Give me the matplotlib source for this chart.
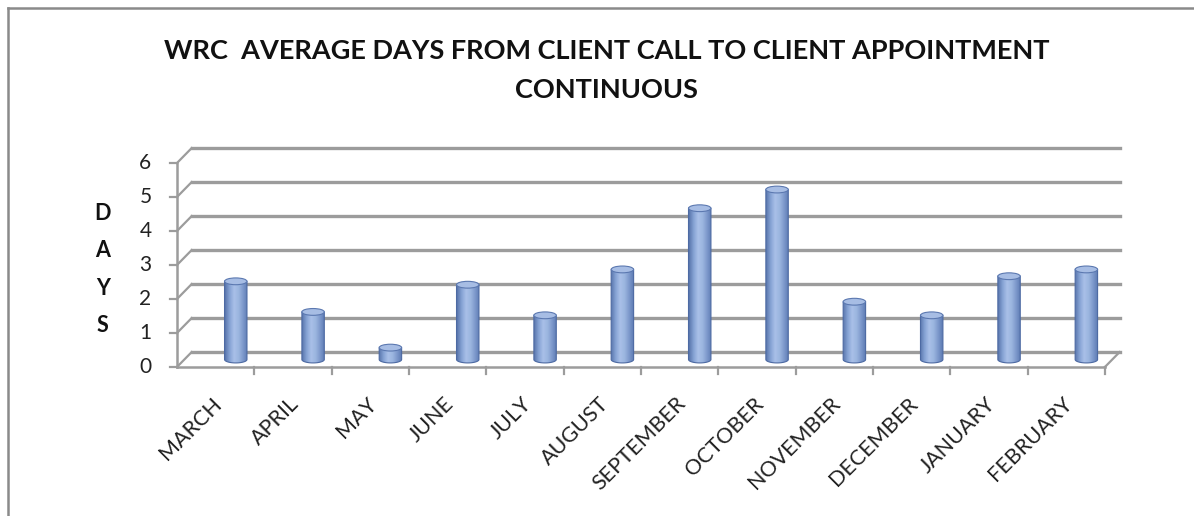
import numpy as np
import matplotlib
matplotlib.use("Agg")
import matplotlib.pyplot as plt
import matplotlib.colors as mcolors
from matplotlib.patches import Ellipse, PathPatch
from matplotlib.path import Path
from matplotlib.lines import Line2D

# data
months = ['MARCH', 'APRIL', 'MAY', 'JUNE', 'JULY', 'AUGUST', 'SEPTEMBER',
          'OCTOBER', 'NOVEMBER', 'DECEMBER', 'JANUARY', 'FEBRUARY']
days = [2.3, 1.4, 0.35, 2.2, 1.3, 2.65, 4.45, 5.0, 1.7, 1.3, 2.45, 2.65]
y_ticks = [0, 1, 2, 3, 4, 5, 6]
axis_letters = ['D', 'A', 'Y', 'S']
title_lines = ['WRC  AVERAGE DAYS FROM CLIENT CALL TO CLIENT APPOINTMENT', 'CONTINUOUS']

plt.rcParams['font.family'] = ['Lato', 'DejaVu Sans']

fig = plt.figure(figsize=(11.94, 5.16), dpi=100)
ax = fig.add_axes([0.1288, 0.2690, 0.8225, 0.4612])
ax.axis('off')

n = len(months)
dx, dy = 0.19, 0.44          # depth offset of the back wall
grid = '#9c9c9c'

# back wall gridlines + side diagonals
for v in y_ticks:
    ax.plot([dx, n + dx], [v + dy, v + dy], color=grid, lw=2.4, zorder=1)
    ax.plot([0, dx], [v, v + dy], color=grid, lw=1.6, zorder=1)
ax.plot([n, n + dx], [0, dy], color=grid, lw=1.6, zorder=1)

# front axes
ax.plot([0, 0], [0, y_ticks[-1]], color=grid, lw=1.8, zorder=2)
ax.plot([0, n], [0, 0], color=grid, lw=1.8, zorder=2)
for v in y_ticks:
    ax.plot([-0.09, 0], [v, v], color=grid, lw=1.6, zorder=2)
    ax.text(-0.33, v, str(v), ha='right', va='center', fontsize=15, color='#222222')
for i in range(1, n + 1):
    ax.plot([i, i], [0, -0.22], color=grid, lw=1.6, zorder=2)

# category labels
for i, m in enumerate(months):
    ax.text(i + 0.45, -0.78, m, rotation=45, rotation_mode='anchor',
            ha='right', va='top', fontsize=15.5, color='#222222')

# cylinders
shade = mcolors.LinearSegmentedColormap.from_list(
    'cyl', ['#5a76ad', '#86a3d4', '#a9c0e8', '#9bb5df', '#7c98cb', '#5d7ab2'])
grad = np.linspace(0, 1, 64).reshape(1, -1)
w, base, eh, shift = 0.29, 0.22, 0.2, 0.26
t = np.linspace(np.pi, 2 * np.pi, 40)
for i, v in enumerate(days):
    xc = i + 0.5 + shift
    top = base + v
    xs = list(xc + w / 2 * np.cos(t)) + [xc + w / 2, xc - w / 2]
    ys = list(base + eh / 2 * np.sin(t)) + [top, top]
    verts = list(zip(xs, ys)) + [(xs[0], ys[0])]
    codes = [Path.MOVETO] + [Path.LINETO] * (len(verts) - 2) + [Path.CLOSEPOLY]
    body = PathPatch(Path(verts, codes), fc='none', ec='#4d6aa3', lw=0.8, zorder=4)
    ax.add_patch(body)
    img = ax.imshow(grad, extent=(xc - w / 2, xc + w / 2, base - eh / 2, top),
                    aspect='auto', cmap=shade, interpolation='bilinear', zorder=3)
    img.set_clip_path(body)
    ax.add_patch(Ellipse((xc, top), w, eh, fc='#a7bde4', ec='#5b78b0', lw=0.8, zorder=5))

ax.set_xlim(-0.3, 12.4)
ax.set_ylim(-0.3, 6.7)

# vertical "DAYS" label
for k, letter in enumerate(axis_letters):
    ax.text(-0.96, 4.52 - 1.1 * k, letter, ha='center', va='center',
            fontsize=15.5, fontweight='bold', color='#111111')

# title
fig.text(0.508, 1 - 51 / 516, title_lines[0], ha='center', va='center',
         fontsize=19.5, fontweight='bold', color='#111111')
fig.text(0.508, 1 - 90 / 516, title_lines[1], ha='center', va='center',
         fontsize=19.5, fontweight='bold', color='#111111')

# screenshot frame on top and left
fig.add_artist(Line2D([8 / 1194, 1], [1 - 8 / 516, 1 - 8 / 516], color='#8a8a8a', lw=1.8))
fig.add_artist(Line2D([8 / 1194, 8 / 1194], [0, 1 - 8 / 516], color='#8a8a8a', lw=1.8))

fig.savefig('out.png', dpi=100, facecolor='white')
